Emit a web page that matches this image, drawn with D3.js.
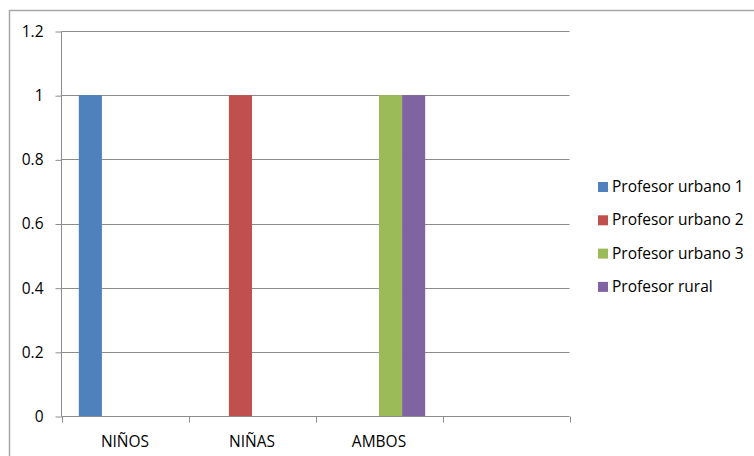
<!DOCTYPE html>
<html><head><meta charset="utf-8">
<script src="https://cdn.jsdelivr.net/npm/d3@7"></script>
<style>body{margin:0;background:#fff}svg{display:block}text{font-family:"Open Sans",sans-serif;fill:#000}</style>
</head><body><svg id="c" width="754" height="456"></svg>
<script>
const categories = ["NIÑOS", "NIÑAS", "AMBOS", ""];
const seriesNames = ["Profesor urbano 1", "Profesor urbano 2", "Profesor urbano 3", "Profesor rural"];
const seriesColors = ["#4f81bd", "#c0504d", "#9bbb59", "#8064a2"];
const urbano1 = [1, 0, 0, 0];
const urbano2 = [0, 1, 0, 0];
const urbano3 = [0, 0, 1, 0];
const rural = [0, 0, 1, 0];
const yTicks = [0, 0.2, 0.4, 0.6, 0.8, 1, 1.2];
const yTickLabels = ["0", "0.2", "0.4", "0.6", "0.8", "1", "1.2"];
const seriesValues = [urbano1, urbano2, urbano3, rural];

(function () {
const FONT = "'Open Sans', sans-serif";
const FS = 15.5;
const svg = d3.select("#c");
svg.append("rect").attr("x", 9.5).attr("y", 10.5).attr("width", 760).attr("height", 460)
  .attr("fill", "none").attr("stroke", "#a6a6a6").attr("stroke-width", 1.5);

const pL = 61.5, pR = 569.5, pT = 31, pB = 416;
const x = d3.scaleBand().domain(d3.range(categories.length)).range([pL, pR]).paddingInner(0).paddingOuter(0);
const y = d3.scaleLinear().domain([0, 1.2]).range([pB, pT]);
const n = seriesNames.length;
const bw = x.bandwidth() / (n + 1.5);
const off = bw * 0.75;

svg.append("g").selectAll("line").data(yTicks.filter(d => d > 0)).join("line")
  .attr("x1", pL).attr("x2", pR).attr("y1", d => Math.round(y(d)) + 0.5).attr("y2", d => Math.round(y(d)) + 0.5)
  .attr("stroke", "#8c8c8c").attr("stroke-width", 1);

seriesValues.forEach((vals, si) => {
  svg.append("g").selectAll("rect").data(vals.map((v, i) => ({v, i}))).join("rect")
    .attr("x", d => x(d.i) + off + si * bw)
    .attr("width", bw)
    .attr("y", d => y(d.v))
    .attr("height", d => y(0) - y(d.v))
    .attr("fill", seriesColors[si]);
});

const ya = d3.axisLeft(y).tickValues(yTicks).tickFormat((d, i) => yTickLabels[i]).tickSize(6).tickPadding(12);
const gy = svg.append("g").attr("transform", `translate(${pL},0.5)`).call(ya);
gy.select(".domain").attr("stroke", "#8c8c8c").attr("d", `M0,${pT}V${pB}`);
gy.selectAll(".tick line").attr("stroke", "#8c8c8c");
gy.selectAll(".tick text").attr("font-size", FS).attr("font-family", FONT).attr("fill", "#000");

const gx = svg.append("g").attr("transform", `translate(0,${pB + 0.5})`);
gx.append("line").attr("x1", pL).attr("x2", pR).attr("stroke", "#8c8c8c");
const bounds = categories.map((c, i) => x(i)).concat([pR]);
gx.selectAll("line.t").data(bounds).join("line").attr("class", "t")
  .attr("x1", d => Math.round(d) + 0.5).attr("x2", d => Math.round(d) + 0.5).attr("y1", 0).attr("y2", 6)
  .attr("stroke", "#8c8c8c");
gx.selectAll("text").data(categories).join("text")
  .attr("x", (d, i) => x(i) + x.bandwidth() / 2).attr("y", 30)
  .attr("text-anchor", "middle").attr("font-size", FS).text(d => d);

const lg = svg.append("g");
seriesNames.forEach((s, i) => {
  const yy = 182 + i * 33.3;
  lg.append("rect").attr("x", 598).attr("y", yy).attr("width", 10).attr("height", 10).attr("fill", seriesColors[i]);
  lg.append("text").attr("x", 612).attr("y", yy + 10).attr("font-size", FS).text(s);
});
})();
</script></body></html>
